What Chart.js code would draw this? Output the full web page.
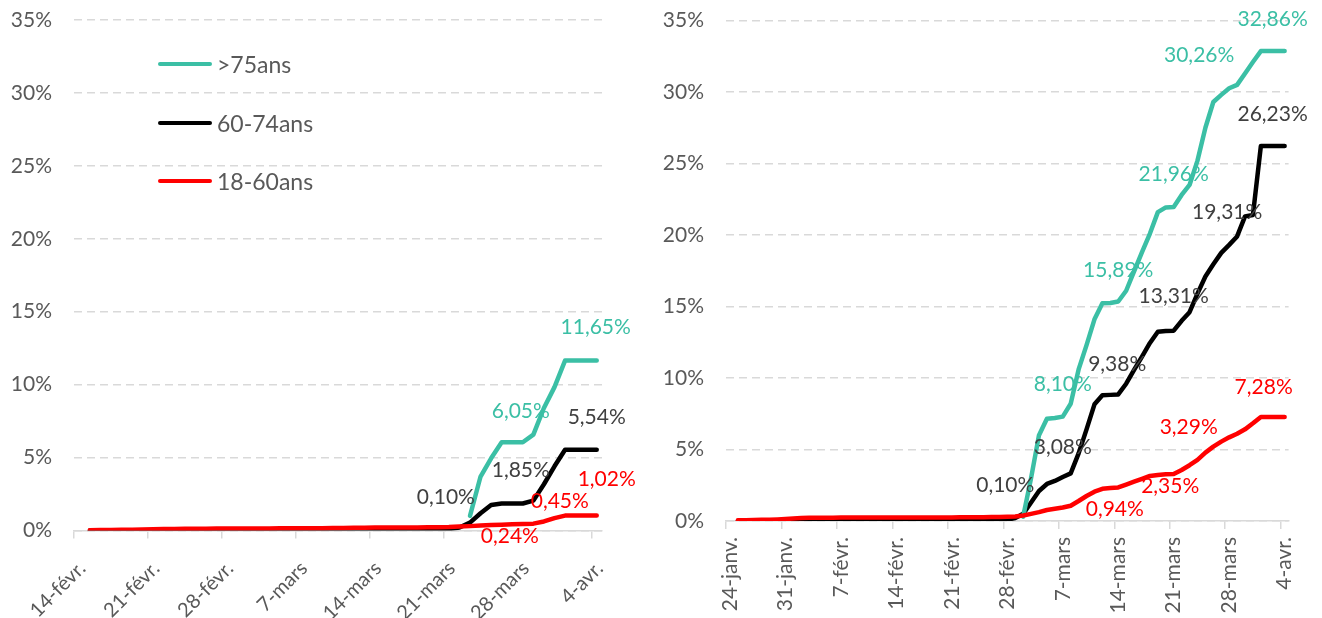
<!DOCTYPE html>
<html lang="fr">
<head>
<meta charset="utf-8">
<title>Couverture vaccinale par âge</title>
<script src="https://cdn.jsdelivr.net/npm/chart.js@4.4.1/dist/chart.umd.min.js"></script>
<style>
  html, body { margin: 0; padding: 0; background: #fff; }
  #page { position: relative; width: 1322px; height: 618px; overflow: hidden; }
  .panel { position: absolute; top: 0; height: 618px; }
  #left { left: 0; width: 660px; }
  #right { left: 660px; width: 662px; }
  .legend { position: absolute; left: 158px; top: 0; font-family: Lato, sans-serif; font-size: 23px; color: #595959; }
  .legend div { position: absolute; left: 0; height: 26px; white-space: nowrap; display: flex; align-items: center; }
  .legend .swatch { display: inline-block; width: 54px; height: 4.5px; border-radius: 3px; margin-right: 5px; }
</style>
</head>
<body>
<div id="page">
  <div class="panel" id="left">
    <canvas id="chartLeft" width="660" height="618"></canvas>
    <div class="legend">
      <div style="top:51px"><span class="swatch" style="background:#3BBFA5"></span>&gt;75ans</div>
      <div style="top:110px"><span class="swatch" style="background:#000"></span>60-74ans</div>
      <div style="top:168px"><span class="swatch" style="background:#FF0000"></span>18-60ans</div>
    </div>
  </div>
  <div class="panel" id="right">
    <canvas id="chartRight" width="662" height="618"></canvas>
  </div>
</div>
<script>
'use strict';
Chart.defaults.font.family = 'Lato, sans-serif';
Chart.defaults.font.size = 21;

const teal = '#3BBFA5';
const black = '#000000';
const red = '#FF0000';
const labelGrey = '#404040';

// daily categories
const monthNames = ['janv.', 'févr.', 'mars', 'avr.'];
const monthDays = [31, 28, 31, 30];
function dayLabels(month, day, count) {
    const out = [];
    for (let i = 0; i < count; i++) {
        out.push(day + '-' + monthNames[month]);
        day++;
        if (day > monthDays[month]) { day = 1; month++; }
    }
    return out;
}
const daysLeft = dayLabels(1, 14, 50);   // 14-févr. -> 4-avr.
const daysRight = dayLabels(0, 24, 71);  // 24-janv. -> 4-avr.

const ticksLeft = ['14-févr.', '21-févr.', '28-févr.', '7-mars', '14-mars', '21-mars', '28-mars', '4-avr.'];
const ticksRight = ['24-janv.', '31-janv.', '7-févr.', '14-févr.', '21-févr.', '28-févr.', '7-mars', '14-mars', '21-mars', '28-mars', '4-avr.'];

// left chart, % vaccinated
const redLeft = [null, 0.02, 0.03, 0.04, 0.05, 0.06, 0.07, 0.08, 0.10, 0.11,
    0.12, 0.12, 0.12, 0.13, 0.13, 0.13, 0.14, 0.14, 0.14, 0.15,
    0.15, 0.15, 0.16, 0.16, 0.17, 0.17, 0.18, 0.19, 0.20, 0.20,
    0.20, 0.21, 0.21, 0.22, 0.23, 0.24, 0.27, 0.30, 0.34, 0.37,
    0.40, 0.42, 0.45, 0.47, 0.62, 0.85, 1.02, 1.02, 1.02, 1.02];
const blackLeft = [null, 0.00, 0.00, 0.00, 0.01, 0.01, 0.01, 0.01, 0.01, 0.02,
    0.02, 0.02, 0.02, 0.02, 0.02, 0.02, 0.03, 0.03, 0.03, 0.03,
    0.03, 0.03, 0.03, 0.04, 0.04, 0.04, 0.04, 0.04, 0.04, 0.05,
    0.05, 0.05, 0.05, 0.06, 0.07, 0.10, 0.20, 0.54, 1.18, 1.75,
    1.85, 1.85, 1.85, 2.05, 3.17, 4.40, 5.54, 5.54, 5.54, 5.54];
const tealLeft = [null, null, null, null, null, null, null, null, null, null,
    null, null, null, null, null, null, null, null, null, null,
    null, null, null, null, null, null, null, null, null, null,
    null, null, null, null, null, null, null, 1.00, 3.70, 4.95,
    6.05, 6.05, 6.05, 6.57, 8.40, 9.83, 11.65, 11.65, 11.65, 11.65];

// right chart, % vaccinated
const redRight = [null, 0.05, 0.06, 0.07, 0.08, 0.09, 0.11, 0.14, 0.18, 0.21,
    0.22, 0.23, 0.23, 0.23, 0.24, 0.24, 0.24, 0.24, 0.24, 0.24,
    0.25, 0.25, 0.25, 0.25, 0.25, 0.25, 0.25, 0.25, 0.25, 0.26,
    0.26, 0.27, 0.27, 0.28, 0.28, 0.30, 0.32, 0.38, 0.50, 0.62,
    0.77, 0.85, 0.94, 1.07, 1.40, 1.75, 2.05, 2.25, 2.30, 2.35,
    2.55, 2.75, 2.95, 3.15, 3.22, 3.27, 3.29, 3.57, 3.90, 4.27,
    4.78, 5.20, 5.55, 5.85, 6.10, 6.41, 6.83, 7.28, 7.28, 7.28,
    7.28];
const blackRight = [null, 0.00, 0.01, 0.01, 0.02, 0.02, 0.02, 0.03, 0.03, 0.03,
    0.04, 0.04, 0.04, 0.04, 0.04, 0.05, 0.05, 0.05, 0.05, 0.05,
    0.05, 0.05, 0.06, 0.06, 0.06, 0.06, 0.06, 0.06, 0.06, 0.07,
    0.07, 0.07, 0.07, 0.07, 0.08, 0.10, 0.20, 0.50, 1.30, 2.10,
    2.59, 2.80, 3.08, 3.33, 4.73, 6.41, 8.16, 8.80, 8.82, 8.85,
    9.60, 10.56, 11.50, 12.45, 13.24, 13.28, 13.31, 14.00, 14.60, 15.90,
    17.10, 17.95, 18.75, 19.31, 19.90, 21.30, 21.40, 26.23, 26.23, 26.23,
    26.23];
const tealRight = [null, null, null, null, null, null, null, null, null, null,
    null, null, null, null, null, null, null, null, null, null,
    null, null, null, null, null, null, null, null, null, null,
    null, null, null, null, null, null, null, 0.30, 3.00, 6.00,
    7.15, 7.20, 7.30, 8.20, 10.60, 12.30, 14.10, 15.22, 15.25, 15.35,
    16.10, 17.45, 18.80, 20.10, 21.60, 21.93, 21.96, 22.80, 23.50, 25.20,
    27.50, 29.30, 29.80, 30.26, 30.50, 31.30, 32.10, 32.86, 32.86, 32.86,
    32.86];

// data labels: [day index, value shown]
const redMarksLeft = [[35, 0.24], [42, 0.45], [49, 1.02]];
const blackMarksLeft = [[35, 0.10], [42, 1.85], [49, 5.54]];
const tealMarksLeft = [[42, 6.05], [49, 11.65]];
const redMarksRight = [[42, 0.94], [49, 2.35], [56, 3.29], [70, 7.28]];
const blackMarksRight = [[35, 0.10], [42, 3.08], [49, 9.38], [56, 13.31], [63, 19.31], [70, 26.23]];
const tealMarksRight = [[42, 8.10], [49, 15.89], [56, 21.96], [63, 30.26], [70, 32.86]];

// where each label sits relative to its point (px)
const redShiftLeft = [[61, 10], [37, -22], [10, -35]];
const blackShiftLeft = [[-3, -31], [-2, -32], [0, -31]];
const tealShiftLeft = [[-2, -30], [-1, -32]];
const redShiftRight = [[52, 3], [52, 0], [15, -46], [-21, -29]];
const blackShiftRight = [[-2, -33], [0, -29], [-1, -29], [0, -33], [-2, -32], [-12, -31]];
const tealShiftRight = [[0, -31], [0, -30], [0, -32], [-30, -32], [-12, -31]];

function fmt(v) {
    return v.toFixed(2).replace('.', ',') + '%';
}

const pointLabels = {
    id: 'pointLabels',
    afterDatasetsDraw(chart) {
        const ctx = chart.ctx;
        const xs = chart.scales.x, ys = chart.scales.y;
        ctx.save();
        ctx.font = '21px Lato, sans-serif';
        ctx.textAlign = 'center';
        ctx.textBaseline = 'middle';
        chart.data.datasets.forEach(function(ds) {
            ctx.fillStyle = ds.markColor;
            ds.marks.forEach(function(m, k) {
                const px = xs.getPixelForValue(m[0]) + ds.shifts[k][0];
                const py = ys.getPixelForValue(ds.data[m[0]]) + ds.shifts[k][1] - 1;
                ctx.fillText(fmt(m[1]), px, py);
            });
        });
        ctx.restore();
    }
};

function line(data, color, marks, shifts, markColor) {
    return {
        data: data,
        borderColor: color,
        backgroundColor: color,
        borderWidth: 4.5,
        borderCapStyle: 'round',
        borderJoinStyle: 'round',
        pointRadius: 0,
        tension: 0,
        fill: false,
        marks: marks,
        shifts: shifts,
        markColor: markColor
    };
}

// xt = {rotation, size, padding, offset} for the date labels
function makeChart(el, days, tickList, xt, datasets, yWidth, xHeight, padTop, padRight) {
    return new Chart(document.getElementById(el), {
        type: 'line',
        data: { labels: days, datasets: datasets },
        options: {
            responsive: false,
            animation: false,
            events: [],
            layout: { padding: { top: padTop, right: padRight, bottom: 0, left: 0 } },
            plugins: { legend: { display: false }, tooltip: { enabled: false } },
            scales: {
                x: {
                    offset: true,
                    grid: {
                        offset: true,
                        drawOnChartArea: false,
                        drawTicks: true,
                        tickLength: 8,
                        lineWidth: 1.5,
                        color: function(c) { return c.index % 7 === 0 ? '#D9D9D9' : 'rgba(0,0,0,0)'; }
                    },
                    border: { display: true, color: '#D9D9D9', width: 1.5 },
                    ticks: {
                        autoSkip: false,
                        minRotation: xt.rotation,
                        maxRotation: xt.rotation,
                        color: '#595959',
                        font: { size: xt.size },
                        padding: xt.padding,
                        labelOffset: xt.offset,
                        callback: function(v, i) { return tickList.includes(days[i]) ? days[i] : ''; }
                    },
                    afterFit: function(s) { s.height = xHeight; }
                },
                y: {
                    min: 0,
                    max: 35,
                    ticks: {
                        stepSize: 5,
                        color: '#595959',
                        padding: 22,
                        callback: function(v) { return v + '%'; }
                    },
                    grid: { color: '#D9D9D9', lineWidth: 1.5, drawTicks: false },
                    border: { display: false, dash: [8, 5] },
                    afterFit: function(s) {
                        s.width = yWidth;
                        s.paddingTop = 0;
                        s.paddingBottom = 0;
                    }
                }
            }
        },
        plugins: [pointLabels]
    });
}

makeChart('chartLeft', daysLeft, ticksLeft, { rotation: 45, size: 20, padding: 18, offset: 3 }, [
    line(redLeft, red, redMarksLeft, redShiftLeft, red),
    line(tealLeft, teal, tealMarksLeft, tealShiftLeft, teal),
    line(blackLeft, black, blackMarksLeft, blackShiftLeft, labelGrey)
], 74, 87.5, 20, 58);

makeChart('chartRight', daysRight, ticksRight, { rotation: 90, size: 21, padding: 8, offset: 0 }, [
    line(redRight, red, redMarksRight, redShiftRight, red),
    line(tealRight, teal, tealMarksRight, tealShiftRight, teal),
    line(blackRight, black, blackMarksRight, blackShiftRight, labelGrey)
], 66, 97, 20.5, 33.4);
</script>
</body>
</html>
